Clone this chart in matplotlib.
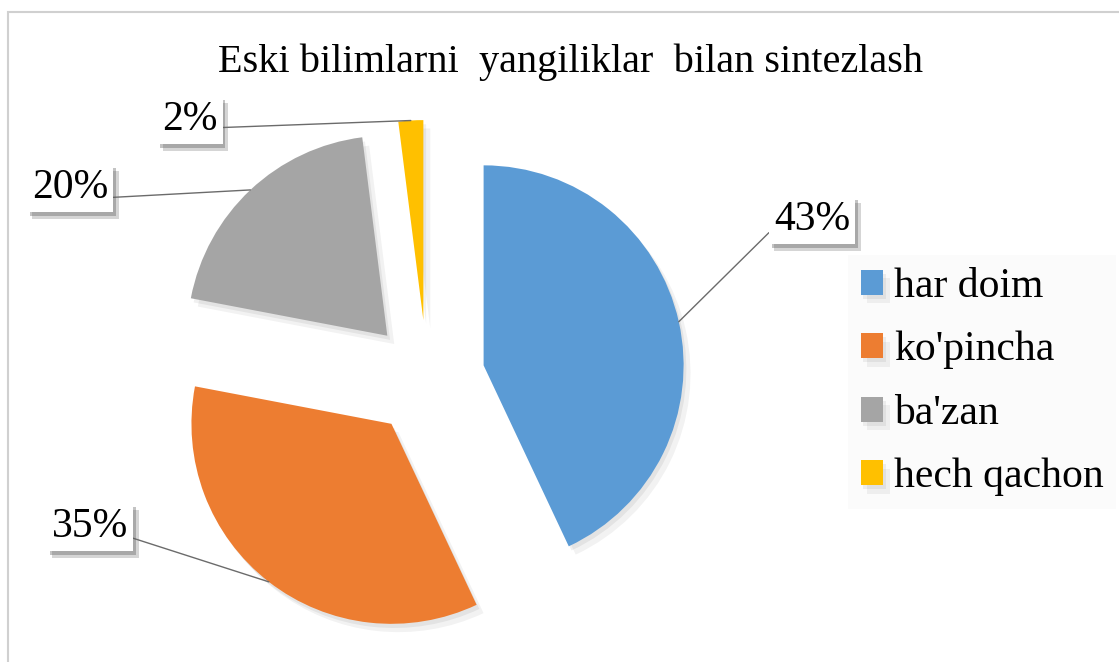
import numpy as np
import matplotlib
matplotlib.use('Agg')
import matplotlib.pyplot as plt
from matplotlib.patches import Rectangle
import matplotlib.patheffects as pe

# Chart data
categories = ['har doim', "ko'pincha", "ba'zan", 'hech qachon']
shares = [43, 35, 20, 2]
colors = ['#5B9BD5', '#ED7D31', '#A5A5A5', '#FFC000']
title = 'Eski bilimlarni  yangiliklar  bilan sintezlash'

# label text positions (pixels, origin bottom-left) and where the leader leaves the box
label_pos = [(812, 442), (90, 135), (70, 474), (190, 542)]
label_rel = [(0, 0.3), (1, 0.25), (1, 0.25), (1, 0.3)]

plt.rcParams['font.family'] = ['Liberation Serif', 'DejaVu Serif']

fig = plt.figure(figsize=(11.19, 6.62), dpi=100)
ax = fig.add_axes([0, 0, 1, 1])

# outer chart frame
fig.patches.append(Rectangle((8, -5), 1130, 655, transform=None, fill=False,
                             edgecolor='#d0d0d0', linewidth=1.5))

center = (427, 284)
radius = 200
# pie explode is in data units, so 58 px here
wedges, _ = ax.pie(shares, colors=colors, startangle=90, counterclock=False,
                   explode=[58] * 4, center=center, radius=radius,
                   wedgeprops=dict(linewidth=0), frame=True)
ax.set_xlim(0, 1119)
ax.set_ylim(0, 662)
ax.set_aspect('equal')
ax.axis('off')

for w in wedges:
    w.set_path_effects([pe.SimplePatchShadow(offset=(5, -6), shadow_rgbFace='#000000', alpha=0.05),
                        pe.SimplePatchShadow(offset=(2, -3), shadow_rgbFace='#000000', alpha=0.06),
                        pe.Normal()])

# data labels with leader lines to the arc middle
for w, val, pos, rel in zip(wedges, shares, label_pos, label_rel):
    mid = np.deg2rad((w.theta1 + w.theta2) / 2)
    cx, cy = w.center
    tip = (cx + w.r * np.cos(mid), cy + w.r * np.sin(mid))
    t = ax.annotate(f'{val}%', xy=tip, xytext=pos, ha='center', va='center',
                    fontsize=30, color='black',
                    bbox=dict(boxstyle='square,pad=0.12', fc='white', ec='none'),
                    arrowprops=dict(arrowstyle='-', color='#6b6b6b', lw=1,
                                    relpos=rel, shrinkA=0, shrinkB=0))
    t.get_bbox_patch().set_path_effects([
        pe.SimplePatchShadow(offset=(4, -5), shadow_rgbFace='#777777', alpha=0.3),
        pe.SimplePatchShadow(offset=(2, -3), shadow_rgbFace='#555555', alpha=0.35),
        pe.Normal()])

fig.text(571 / 1119, 600 / 662, title, ha='center', va='center', fontsize=29)

leg = ax.legend(wedges, categories, loc='upper left',
                bbox_to_anchor=(848 / 1119, 407 / 662), fontsize=30,
                frameon=True, fancybox=False, handlelength=0.55, handleheight=0.55,
                handletextpad=0.25, labelspacing=0.6, borderpad=0.3,
                borderaxespad=0)
leg.get_frame().set_facecolor('#fafafa')
leg.get_frame().set_edgecolor('none')

fig.savefig('out.png', dpi=100, facecolor='white')
